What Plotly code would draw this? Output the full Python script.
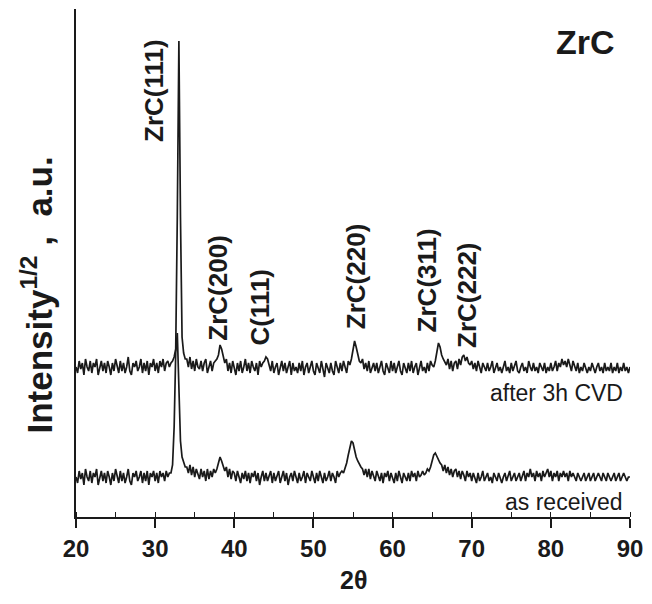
import plotly.graph_objects as go

# Scan grid (2-theta, degrees)
scan_start = 20.0
scan_step = 0.2
n_points = 351
two_theta = [round(scan_start + scan_step * i, 1) for i in range(n_points)]

# Intensity^(1/2), a.u. (offset traces as drawn)
after_cvd = [
    75, 72, 78, 74, 77, 71, 79, 75, 73, 78,
    72, 77, 75, 79, 71, 75, 78, 73, 77, 72,
    78, 75, 71, 77, 73, 79, 75, 72, 78, 73,
    77, 72, 75, 80, 73, 71, 77, 75, 78, 73,
    75, 79, 72, 77, 73, 78, 71, 77, 75, 79,
    73, 77, 72, 78, 75, 79, 73, 77, 78, 75,
    77, 78, 80, 84, 150, 238, 150, 90, 82, 79,
    79, 75, 80, 74, 78, 73, 79, 75, 74, 78,
    73, 77, 79, 72, 75, 78, 73, 77, 78, 79,
    81, 86, 84, 80, 77, 79, 73, 77, 72, 78,
    75, 71, 77, 73, 78, 72, 75, 79, 73, 77,
    72, 78, 75, 73, 77, 71, 78, 75, 77, 78,
    80, 79, 76, 73, 78, 72, 75, 77, 71, 75,
    78, 73, 77, 72, 75, 78, 71, 77, 73, 75,
    72, 77, 73, 78, 71, 75, 77, 72, 75, 78,
    73, 71, 77, 75, 72, 78, 73, 70, 77, 75,
    72, 77, 73, 71, 78, 75, 72, 77, 73, 78,
    75, 72, 78, 76, 79, 83, 88, 85, 81, 78,
    77, 79, 74, 77, 73, 78, 72, 75, 77, 73,
    77, 72, 75, 78, 73, 71, 77, 75, 72, 78,
    73, 77, 72, 75, 78, 73, 71, 77, 75, 72,
    77, 73, 78, 72, 75, 77, 71, 75, 78, 73,
    75, 72, 77, 73, 78, 76, 75, 78, 82, 87,
    85, 81, 79, 77, 76, 79, 74, 78, 73, 77,
    78, 74, 79, 76, 80, 81, 78, 80, 77, 76,
    78, 74, 77, 73, 78, 75, 72, 77, 75, 73,
    77, 73, 75, 78, 72, 75, 77, 73, 75, 72,
    75, 78, 73, 75, 72, 77, 73, 75, 78, 73,
    72, 75, 77, 73, 75, 72, 78, 75, 73, 77,
    73, 75, 72, 77, 75, 73, 77, 72, 75, 73,
    77, 73, 75, 78, 73, 77, 75, 79, 76, 78,
    75, 79, 76, 73, 78, 75, 73, 77, 72, 75,
    73, 77, 75, 72, 75, 73, 77, 75, 72, 75,
    77, 73, 75, 72, 77, 73, 75, 73, 77, 72,
    75, 73, 77, 72, 75, 73, 77, 73, 75, 72,
    75,
]

as_received = [
    20, 17, 23, 19, 22, 16, 24, 20, 18, 23,
    17, 22, 20, 24, 16, 20, 23, 18, 22, 17,
    23, 20, 16, 22, 18, 24, 20, 17, 23, 18,
    22, 17, 20, 24, 18, 16, 22, 20, 23, 18,
    20, 23, 17, 22, 18, 23, 16, 22, 20, 23,
    18, 22, 17, 23, 20, 22, 18, 23, 20, 22,
    22, 26, 45, 82, 92, 62, 38, 30, 27, 25,
    25, 22, 26, 21, 25, 20, 24, 21, 19, 24,
    20, 23, 18, 24, 19, 23, 20, 24, 22, 24,
    27, 30, 28, 25, 23, 25, 20, 24, 19, 23,
    22, 18, 23, 20, 17, 22, 19, 23, 18, 22,
    17, 22, 20, 23, 18, 22, 16, 20, 23, 18,
    22, 18, 20, 23, 17, 22, 18, 20, 23, 17,
    20, 23, 18, 22, 16, 20, 22, 18, 23, 20,
    17, 22, 18, 20, 23, 17, 22, 20, 18, 23,
    20, 17, 22, 18, 23, 20, 17, 22, 18, 20,
    23, 18, 22, 20, 17, 23, 20, 22, 23, 22,
    24, 27, 31, 35, 38, 37, 33, 30, 28, 26,
    25, 24, 21, 24, 20, 24, 19, 23, 21, 18,
    23, 20, 18, 22, 17, 22, 20, 23, 18, 22,
    20, 17, 22, 18, 23, 20, 17, 22, 20, 18,
    22, 18, 23, 20, 22, 18, 23, 20, 21, 23,
    21, 22, 24, 23, 25, 28, 31, 32, 30, 28,
    27, 26, 23, 26, 22, 25, 21, 24, 20, 23,
    24, 20, 23, 19, 23, 21, 18, 23, 20, 22,
    18, 22, 20, 17, 22, 18, 20, 23, 18, 20,
    22, 18, 20, 17, 22, 20, 18, 22, 20, 17,
    20, 22, 18, 20, 23, 18, 20, 22, 18, 20,
    22, 18, 20, 23, 18, 22, 20, 24, 20, 22,
    18, 23, 20, 22, 18, 23, 20, 22, 24, 20,
    23, 18, 22, 20, 23, 18, 22, 20, 23, 20,
    22, 18, 23, 20, 22, 20, 18, 22, 20, 18,
    20, 22, 18, 20, 22, 18, 20, 22, 18, 20,
    22, 20, 18, 22, 20, 18, 22, 20, 18, 20,
    22, 18, 20, 22, 18, 20, 22, 20, 18, 20,
    20,
]

# Peak labels: text, 2-theta, vertical (data) position
peak_labels = ["ZrC(111)", "ZrC(200)", "C(111)", "ZrC(220)", "ZrC(311)", "ZrC(222)"]
peak_label_x = [29.85, 37.9, 43.2, 55.4, 64.4, 69.4]
peak_label_y = [213.5, 114.5, 105, 120, 118.5, 111]

trace_names = ["after 3h CVD", "as received"]
x_ticks = [20, 30, 40, 50, 60, 70, 80, 90]

FONT = "Liberation Sans, Arial, sans-serif"
INK = "#1a1a1a"

fig = go.Figure()
for name, ys in zip(trace_names, [after_cvd, as_received]):
    fig.add_trace(go.Scatter(x=two_theta, y=ys, mode="lines", name=name,
                             line=dict(color=INK, width=1.7), showlegend=False))

for txt, px, py in zip(peak_labels, peak_label_x, peak_label_y):
    fig.add_annotation(x=px, y=py, xref="x", yref="y", text="<b>" + txt + "</b>",
                       textangle=-90, showarrow=False, xanchor="center", yanchor="middle",
                       font=dict(family=FONT, size=26, color=INK))

# trace labels
fig.add_annotation(x=89.4, y=62, xref="x", yref="y", text=trace_names[0],
                   xanchor="right", yanchor="middle", showarrow=False,
                   font=dict(family=FONT, size=23, color=INK))
fig.add_annotation(x=89.4, y=7.5, xref="x", yref="y", text=trace_names[1],
                   xanchor="right", yanchor="middle", showarrow=False,
                   font=dict(family=FONT, size=23, color=INK))

# sample label
fig.add_annotation(x=0.92, y=0.935, xref="paper", yref="paper", text="<b>ZrC</b>",
                   xanchor="center", yanchor="middle",
                   showarrow=False, font=dict(family=FONT, size=34, color=INK))

# axis titles
fig.add_annotation(x=-0.0695, y=0.437, xref="paper", yref="paper",
                   text="<b>Intensity<sup>1/2</sup> ,  a.u.</b>", textangle=-90,
                   xanchor="center", yanchor="middle",
                   showarrow=False, font=dict(family=FONT, size=35, color=INK))
fig.add_annotation(x=0.5, y=-0.124, xref="paper", yref="paper",
                   text="<b>2θ</b>", showarrow=False, xanchor="center", yanchor="middle",
                   font=dict(family=FONT, size=25, color=INK))

fig.update_layout(
    width=652, height=604, autosize=False,
    margin=dict(l=76, r=11, t=9, b=87),
    paper_bgcolor="white", plot_bgcolor="white",
    xaxis=dict(range=[20, 90], showline=True, linecolor=INK, linewidth=1.6,
               mirror=False, showgrid=False, zeroline=False,
               tickmode="array", tickvals=x_ticks, ticktext=[str(v) for v in x_ticks],
               ticks="outside", ticklen=9, tickwidth=1.6, tickcolor=INK,
               ticklabeloverflow="allow",
               minor=dict(dtick=5, ticks="inside", ticklen=5, tickwidth=1.4,
                          tickcolor=INK, showgrid=False),
               tickfont=dict(family=FONT, size=24, color=INK, weight="bold")),
    yaxis=dict(range=[0, 254], showline=True, linecolor=INK, linewidth=1.6,
               mirror=False, showgrid=False, zeroline=False, showticklabels=False,
               ticks=""),
)

fig.write_html("out.html",
               config={"responsive": False, "displayModeBar": False},
               post_script="document.body.style.margin='0px';")
